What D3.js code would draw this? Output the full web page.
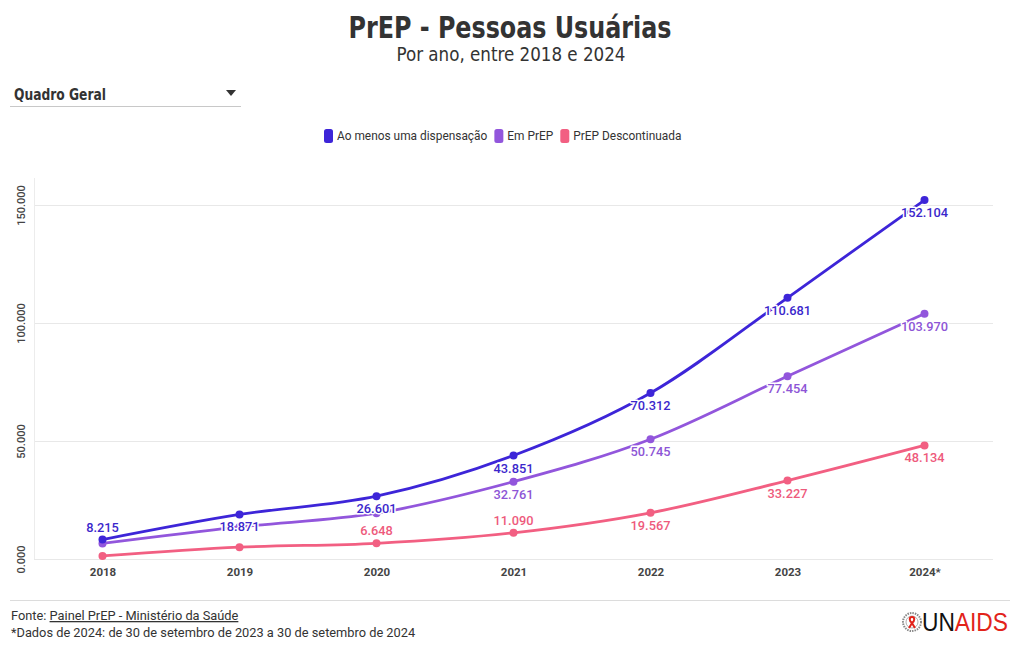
<!DOCTYPE html>
<html>
<head>
<meta charset="utf-8">
<script src="https://cdn.jsdelivr.net/npm/d3@7"></script>
<style>
  html, body { margin: 0; padding: 0; background: #fff; }
  svg { display: block; }
</style>
</head>
<body>
<svg id="chart" width="1020" height="650"></svg>
<script>
// ---------------- DATA ----------------
const years = ["2018", "2019", "2020", "2021", "2022", "2023", "2024"];
const yearLabels = ["2018", "2019", "2020", "2021", "2022", "2023", "2024*"];
const seriesNames = ["Ao menos uma dispensação", "Em PrEP", "PrEP Descontinuada"];
const aoMenosUma = [8215, 18871, 26601, 43851, 70312, 110681, 152104];
const emPrEP = [6600, 13600, 19400, 32761, 50745, 77454, 103970];
const prepDescontinuada = [1300, 5000, 6648, 11090, 19567, 33227, 48134];
const yTicks = [0, 50000, 100000, 150000];
const yTickLabels = ["0.000", "50.000", "100.000", "150.000"];

// ---------------- STYLE / CONFIG ----------------
const colors = ["#3d25d8", "#9256dc", "#f25f82"];
const labelColors = ["#3b27cc", "#8d55d6", "#ee5a7c"];
// which value labels are shown, and which are drawn above the point
const labelShown = [
  [1, 1, 1, 1, 1, 1, 1],
  [0, 0, 0, 1, 1, 1, 1],
  [0, 0, 1, 1, 1, 1, 1]
];
const labelAbove = [
  [1, 0, 0, 0, 0, 0, 0],
  [0, 0, 0, 0, 0, 0, 0],
  [0, 0, 1, 1, 0, 0, 0]
];

const series = [aoMenosUma, emPrEP, prepDescontinuada].map((vals, i) => ({
  name: seriesNames[i],
  color: colors[i],
  labelColor: labelColors[i],
  values: vals.map((v, j) => ({ year: years[j], value: v, show: labelShown[i][j], above: labelAbove[i][j] }))
}));

const svg = d3.select("#chart");
const sansFont = "Roboto, 'Noto Sans', 'DejaVu Sans', sans-serif";
const condFont = "'DejaVu Sans Condensed', 'DejaVu Sans', sans-serif";

// ---------------- TITLE ----------------
svg.append("text")
  .attr("x", 510).attr("y", 38)
  .attr("text-anchor", "middle")
  .attr("textLength", 323).attr("lengthAdjust", "spacingAndGlyphs")
  .style("font-family", condFont)
  .style("font-stretch", "condensed")
  .style("font-weight", "700")
  .style("font-size", "31px")
  .style("fill", "#333")
  .text("PrEP - Pessoas Usuárias");

svg.append("text")
  .attr("x", 511).attr("y", 61)
  .attr("text-anchor", "middle")
  .attr("textLength", 229).attr("lengthAdjust", "spacingAndGlyphs")
  .style("font-family", condFont)
  .style("font-stretch", "condensed")
  .style("font-weight", "400")
  .style("font-size", "19px")
  .style("fill", "#333")
  .text("Por ano, entre 2018 e 2024");

// ---------------- DROPDOWN ----------------
svg.append("text")
  .attr("x", 14).attr("y", 100)
  .attr("textLength", 92).attr("lengthAdjust", "spacingAndGlyphs")
  .style("font-family", condFont)
  .style("font-stretch", "condensed")
  .style("font-weight", "700")
  .style("font-size", "15px")
  .style("fill", "#333")
  .text("Quadro Geral");
svg.append("path")
  .attr("d", "M226,90 L236,90 L231,96 Z")
  .style("fill", "#333");
svg.append("line")
  .attr("x1", 10).attr("x2", 241).attr("y1", 106.5).attr("y2", 106.5)
  .style("stroke", "#c8c8c8").style("stroke-width", 1);

// ---------------- LEGEND ----------------
const legend = svg.append("g").attr("transform", "translate(0,136)");
let lx = 324;
series.forEach(s => {
  const g = legend.append("g").attr("transform", `translate(${lx},0)`);
  g.append("rect").attr("x", 0).attr("y", -7).attr("width", 9).attr("height", 14)
    .attr("rx", 2.5).style("fill", s.color);
  const t = g.append("text").attr("x", 13).attr("y", 4)
    .style("font-family", sansFont).style("font-size", "11.9px").style("fill", "#333")
    .text(s.name);
  const w = t.node().getComputedTextLength();
  lx += 13 + w + 7;
});

// ---------------- SCALES ----------------
const plotLeft = 34, plotRight = 993, plotTop = 178, plotBottom = 559;
const x = d3.scalePoint().domain(years).range([plotLeft, plotRight]).padding(0.5);
const y = d3.scaleLinear().domain([0, 161440]).range([plotBottom, plotTop]);

// gridlines
const grid = svg.append("g");
grid.selectAll("line.h").data(yTicks).join("line")
  .attr("x1", plotLeft).attr("x2", plotRight)
  .attr("y1", d => Math.round(y(d)) + 0.5).attr("y2", d => Math.round(y(d)) + 0.5)
  .style("stroke", "#e8e8e8").style("stroke-width", 1);
grid.append("line")
  .attr("x1", plotLeft + 0.5).attr("x2", plotLeft + 0.5)
  .attr("y1", plotTop).attr("y2", plotBottom)
  .style("stroke", "#ececec").style("stroke-width", 1);

// y axis labels (rotated)
const yAxis = d3.axisLeft(y).tickValues(yTicks).tickFormat((d, i) => yTickLabels[i]).tickSize(0);
const yg = svg.append("g").attr("transform", `translate(${plotLeft},0)`).call(yAxis);
yg.select(".domain").remove();
yg.selectAll("text")
  .attr("x", 0).attr("y", 0).attr("dy", 0)
  .attr("transform", "translate(-9,0) rotate(-90)")
  .style("text-anchor", "middle")
  .style("font-family", sansFont)
  .style("font-size", "11px")
  .style("font-weight", "500")
  .style("fill", "#444");

// x axis
const xAxis = d3.axisBottom(x).tickFormat((d, i) => yearLabels[i]).tickSize(0).tickPadding(9);
const xg = svg.append("g").attr("transform", `translate(0,${plotBottom})`).call(xAxis);
xg.select(".domain").remove();
xg.selectAll("text")
  .style("font-family", sansFont)
  .style("font-size", "11.5px")
  .style("font-weight", "700")
  .style("fill", "#444");

// ---------------- LINES ----------------
const line = d3.line().x(d => x(d.year)).y(d => y(d.value)).curve(d3.curveMonotoneX);
const linesG = svg.append("g");
series.slice().reverse().forEach(s => {
  linesG.append("path").datum(s.values)
    .attr("d", line)
    .style("fill", "none")
    .style("stroke", s.color)
    .style("stroke-width", 2.8)
    .style("stroke-linecap", "round");
  linesG.selectAll(null).data(s.values).join("circle")
    .attr("cx", d => x(d.year)).attr("cy", d => y(d.value)).attr("r", 4)
    .style("fill", s.color);
});

// ---------------- VALUE LABELS ----------------
const fmt = d3.formatLocale({ decimal: ",", thousands: ".", grouping: [3], currency: ["R$", ""] }).format(",");
const labG = svg.append("g");
series.forEach(s => {
  labG.selectAll(null).data(s.values.filter(d => d.show)).join("text")
    .attr("x", d => x(d.year))
    .attr("y", d => d.above ? y(d.value) - 8 : y(d.value) + 17)
    .attr("text-anchor", "middle")
    .style("font-family", sansFont)
    .style("font-size", "12.8px")
    .style("font-weight", "500")
    .style("fill", s.labelColor)
    .style("stroke", "#fff")
    .style("stroke-width", 3)
    .style("stroke-linejoin", "round")
    .style("paint-order", "stroke")
    .text(d => fmt(d.value));
});

// ---------------- FOOTER ----------------
svg.append("line")
  .attr("x1", 10).attr("x2", 1010).attr("y1", 600.5).attr("y2", 600.5)
  .style("stroke", "#dcdcdc").style("stroke-width", 1);

const f1 = svg.append("text").attr("x", 11).attr("y", 620)
  .style("font-family", sansFont).style("font-size", "12.8px").style("fill", "#333");
f1.append("tspan").text("Fonte: ");
f1.append("tspan").style("text-decoration", "underline").text("Painel PrEP - Ministério da Saúde");

svg.append("text").attr("x", 11).attr("y", 637)
  .style("font-family", sansFont).style("font-size", "12.8px").style("fill", "#333")
  .text("*Dados de 2024: de 30 de setembro de 2023 a 30 de setembro de 2024");

// UNAIDS logo
const logo = svg.append("g").attr("transform", "translate(912,622)");
logo.append("circle").attr("r", 9).style("fill", "none").style("stroke", "#888").style("stroke-width", 2).style("stroke-dasharray", "1.5,1");
logo.append("circle").attr("r", 6).style("fill", "#fff").style("stroke", "#999").style("stroke-width", 0.8);
logo.append("path")
  .attr("d", "M0,-5 C-3,-5 -3,-1 0,1 L-3,6 M0,-5 C3,-5 3,-1 0,1 L3,6")
  .style("fill", "none").style("stroke", "#e2231a").style("stroke-width", 2);
const lt = svg.append("text").attr("x", 922).attr("y", 631)
  .attr("textLength", 86).attr("lengthAdjust", "spacingAndGlyphs")
  .style("font-family", "'Liberation Sans', 'DejaVu Sans', sans-serif")
  .style("font-size", "25px");
lt.append("tspan").style("fill", "#111").text("UN");
lt.append("tspan").style("fill", "#e2231a").text("AIDS");
</script>
</body>
</html>
